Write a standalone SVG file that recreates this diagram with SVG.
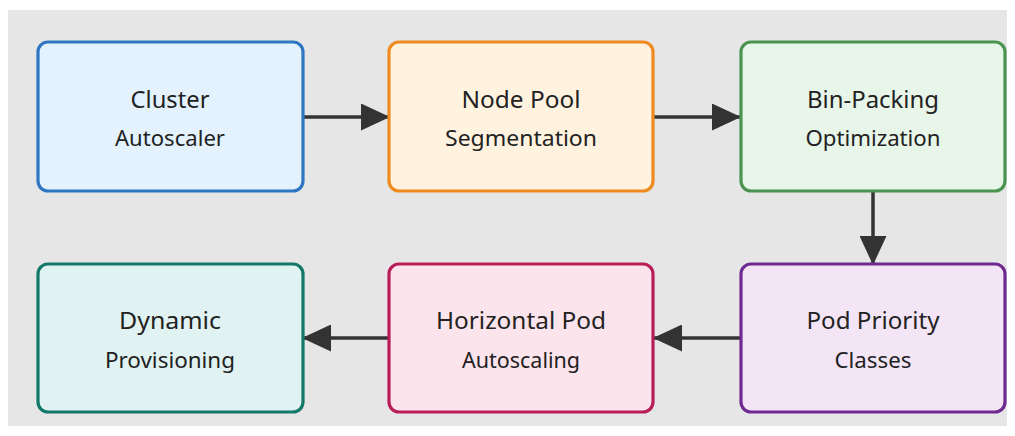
<svg xmlns="http://www.w3.org/2000/svg" width="1015" height="436" viewBox="0 0 1015 436">
  <style>
    .box { stroke-width: 3.2; }
    .t1 { font-family: "Noto Sans", "Open Sans", sans-serif; font-size: 23px; fill: #222; text-anchor: middle; }
    .t2 { font-family: "Noto Sans", "Open Sans", sans-serif; font-size: 21px; fill: #222; text-anchor: middle; }
    .edge { stroke: #333; stroke-width: 3.5; fill: none; marker-end: url(#arrow); }
  </style>
  <defs>
    <marker id="arrow" markerUnits="userSpaceOnUse" markerWidth="29" markerHeight="27" refX="28" refY="13.5" orient="auto">
      <path d="M0,0 L29,13.5 L0,27 Z" fill="#333"/>
    </marker>
  </defs>

  <rect x="0" y="0" width="1015" height="436" fill="#ffffff"/>
  <rect x="8" y="10" width="999" height="416" fill="#e6e6e6"/>

  <g id="connectors">
    <line class="edge" x1="304" y1="117" x2="389" y2="117"/>
    <line class="edge" x1="654" y1="117" x2="740" y2="117"/>
    <line class="edge" x1="873" y1="192" x2="873" y2="264"/>
    <line class="edge" x1="741" y1="338" x2="654" y2="338"/>
    <line class="edge" x1="389" y1="338" x2="303" y2="338"/>
  </g>

  <g id="cluster-autoscaler">
    <rect class="box" x="38" y="42" width="265" height="149" rx="10" fill="#e3f2fd" stroke="#2f76c2"/>
    <text class="t1" x="170" y="108" textLength="79" lengthAdjust="spacingAndGlyphs">Cluster</text>
    <text class="t2" x="170" y="146" textLength="110" lengthAdjust="spacingAndGlyphs">Autoscaler</text>
  </g>

  <g id="node-pool-segmentation">
    <rect class="box" x="389" y="42" width="264" height="149" rx="10" fill="#fff3e0" stroke="#ef8a1f"/>
    <text class="t1" x="521" y="108" textLength="119" lengthAdjust="spacingAndGlyphs">Node Pool</text>
    <text class="t2" x="521" y="146" textLength="152" lengthAdjust="spacingAndGlyphs">Segmentation</text>
  </g>

  <g id="bin-packing-optimization">
    <rect class="box" x="741" y="42" width="264" height="149" rx="10" fill="#e8f5e9" stroke="#4b9350"/>
    <text class="t1" x="873" y="108" textLength="132" lengthAdjust="spacingAndGlyphs">Bin-Packing</text>
    <text class="t2" x="873" y="146" textLength="135" lengthAdjust="spacingAndGlyphs">Optimization</text>
  </g>

  <g id="pod-priority-classes">
    <rect class="box" x="741" y="264" width="264" height="148" rx="10" fill="#f3e5f5" stroke="#6f2a91"/>
    <text class="t1" x="873" y="329" textLength="133" lengthAdjust="spacingAndGlyphs">Pod Priority</text>
    <text class="t2" x="873" y="368" textLength="77" lengthAdjust="spacingAndGlyphs">Classes</text>
  </g>

  <g id="horizontal-pod-autoscaling">
    <rect class="box" x="389" y="264" width="264" height="148" rx="10" fill="#fce4ec" stroke="#b81d57"/>
    <text class="t1" x="521" y="329" textLength="170" lengthAdjust="spacingAndGlyphs">Horizontal Pod</text>
    <text class="t2" x="521" y="368" textLength="118" lengthAdjust="spacingAndGlyphs">Autoscaling</text>
  </g>

  <g id="dynamic-provisioning">
    <rect class="box" x="38" y="264" width="265" height="148" rx="10" fill="#e0f2f1" stroke="#12786a"/>
    <text class="t1" x="170" y="329" textLength="102" lengthAdjust="spacingAndGlyphs">Dynamic</text>
    <text class="t2" x="170" y="368" textLength="130" lengthAdjust="spacingAndGlyphs">Provisioning</text>
  </g>
</svg>
